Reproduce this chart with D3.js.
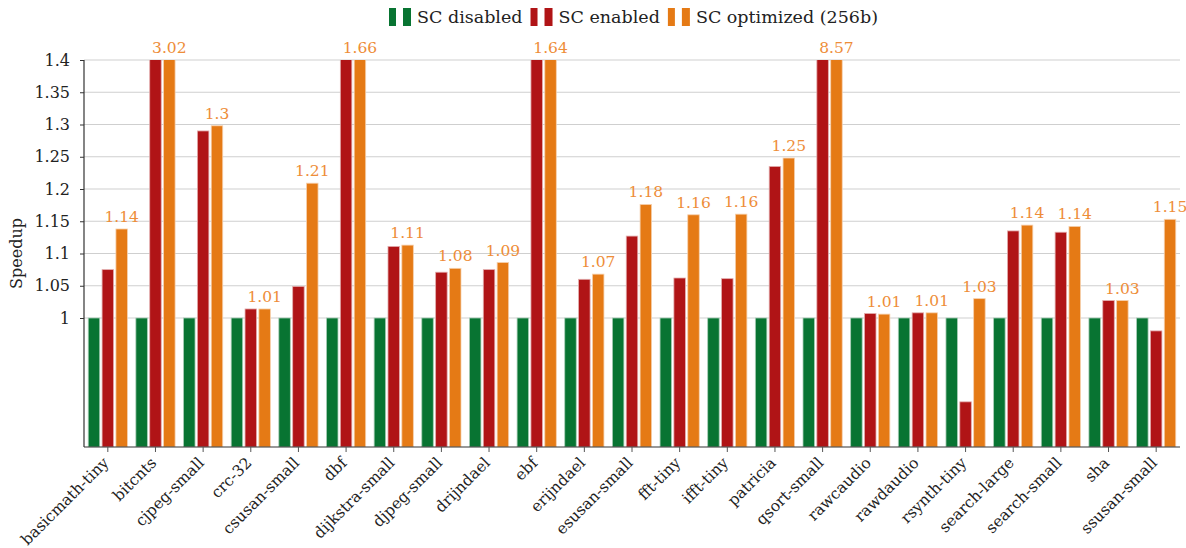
<!DOCTYPE html>
<html>
<head>
<meta charset="utf-8">
<script src="https://cdn.jsdelivr.net/npm/d3@7"></script>
<style>
	body { margin: 0; background: #fff; }
	text { font-family: "DejaVu Serif", serif; fill: #222; }
</style>
</head>
<body>
<div id="chart"></div>
<script>
const categories = ["basicmath-tiny","bitcnts","cjpeg-small","crc-32","csusan-small","dbf",
	"dijkstra-small","djpeg-small","drijndael","ebf","erijndael","esusan-small","fft-tiny",
	"ifft-tiny","patricia","qsort-small","rawcaudio","rawdaudio","rsynth-tiny","search-large",
	"search-small","sha","ssusan-small"];

const scDisabled = [1,1,1,1,1,1,1,1,1,1,1,1,1,1,1,1,1,1,1,1,1,1,1];
const scEnabled = [1.075,2.95,1.29,1.014,1.049,1.62,1.111,1.071,1.075,1.6,1.06,1.127,1.062,
	1.061,1.235,8.4,1.007,1.008,0.87,1.135,1.133,1.027,0.98];
const scOptimized = [1.138,3.02,1.298,1.014,1.209,1.66,1.113,1.077,1.086,1.64,1.068,1.176,1.16,
	1.161,1.248,8.57,1.006,1.008,1.03,1.144,1.142,1.027,1.153];

const seriesNames = ["SC disabled","SC enabled","SC optimized (256b)"];
const yTicks = [1,1.05,1.1,1.15,1.2,1.25,1.3,1.35,1.4];

const colors = ["#087432","#b01416","#e57a15"];
const labelColor = "#ee8d38";

const W = 1186, H = 548;
const margin = {top: 60, right: 6, bottom: 101, left: 84};

const svg = d3.select('#chart').append('svg')
	.attr('width', W)
	.attr('height', H);

const x0 = d3.scaleBand()
	.domain(categories)
	.range([margin.left, W - margin.right]);

const x1 = d3.scaleBand()
	.domain(d3.range(3))
	.range([x0.bandwidth() / 2 - 19.6, x0.bandwidth() / 2 + 19.6])
	.paddingInner(0.17);

const y = d3.scaleLinear()
	.domain([0.8, 1.4])
	.range([H - margin.bottom, margin.top]);

const fmt = v => String(+v.toFixed(2));

// grid
svg.append('g')
	.selectAll('line')
	.data(yTicks)
	.enter()
	.append('line')
		.attr('x1', margin.left)
		.attr('x2', W - margin.right)
		.attr('y1', d => y(d))
		.attr('y2', d => y(d))
		.style('stroke', '#cfcfcf')
		.style('stroke-width', 1.1);

svg.append('clipPath')
	.attr('id', 'plot-clip')
	.append('rect')
		.attr('x', margin.left)
		.attr('y', margin.top)
		.attr('width', W - margin.left - margin.right)
		.attr('height', H - margin.top - margin.bottom);

const series = [scDisabled, scEnabled, scOptimized];

const bars = svg.append('g').attr('clip-path', 'url(#plot-clip)');
series.forEach((vals, s) => {
	bars.append('g')
		.selectAll('rect')
		.data(vals)
		.enter()
		.append('rect')
			.attr('x', (d, i) => x0(categories[i]) + x1(s))
			.attr('y', d => y(d))
			.attr('width', x1.bandwidth())
			.attr('height', d => y(0.8) - y(d))
			.style('fill', colors[s])
			.style('stroke', d3.interpolateRgb(colors[s], '#fff')(0.65))
			.style('stroke-width', 0.8);
});

// value labels on optimized series
svg.append('g')
	.selectAll('text')
	.data(scOptimized)
	.enter()
	.append('text')
		.attr('x', (d, i) => x0(categories[i]) + x1(2) + x1.bandwidth() / 2)
		.attr('y', d => y(Math.min(d, 1.4)) - 7)
		.attr('text-anchor', 'middle')
		.style('font-size', '15.5px')
		.style('fill', labelColor)
		.text(d => fmt(d));

// axes
const yAxis = d3.axisLeft(y)
	.tickValues(yTicks)
	.tickFormat(fmt)
	.tickSize(4)
	.tickPadding(10);

const gy = svg.append('g')
	.attr('transform', `translate(${margin.left},0)`)
	.call(yAxis);
gy.select('.domain').remove();
gy.selectAll('text').style('font-size', '16px');
gy.selectAll('line').style('stroke', '#333');

svg.append('line')
	.attr('x1', margin.left).attr('x2', margin.left)
	.attr('y1', margin.top).attr('y2', y(0.8))
	.style('stroke', '#333').style('stroke-width', 1.2);
svg.append('line')
	.attr('x1', margin.left).attr('x2', W - margin.right)
	.attr('y1', y(0.8)).attr('y2', y(0.8))
	.style('stroke', '#333').style('stroke-width', 1.2);

const xAxis = d3.axisBottom(x0).tickSize(5).tickPadding(0);
const gx = svg.append('g')
	.attr('transform', `translate(0,${y(0.8)})`)
	.call(xAxis);
gx.select('.domain').remove();
gx.selectAll('line').style('stroke', '#555');
gx.selectAll('text')
	.style('font-size', '15.5px')
	.attr('text-anchor', 'end')
	.attr('x', 0)
	.attr('y', 0)
	.attr('dy', '0.35em')
	.attr('transform', 'translate(-2,13) rotate(-45)');

svg.append('text')
	.attr('transform', `translate(22,${(margin.top + y(0.8)) / 2}) rotate(-90)`)
	.attr('text-anchor', 'middle')
	.style('font-size', '16px')
	.text('Speedup');

// legend
const legend = svg.append('g');
let lx = 389;
seriesNames.forEach((name, s) => {
	const g = legend.append('g').attr('transform', `translate(${lx},0)`);
	g.append('rect').attr('x', 0).attr('y', 8).attr('width', 7).attr('height', 18).style('fill', colors[s]);
	g.append('rect').attr('x', 14).attr('y', 8).attr('width', 8).attr('height', 18).style('fill', colors[s]);
	const t = g.append('text')
		.attr('x', 28)
		.attr('y', 23)
		.style('font-size', '17.5px')
		.text(name);
	lx += 28 + t.node().getComputedTextLength() + 8;
});
</script>
</body>
</html>
